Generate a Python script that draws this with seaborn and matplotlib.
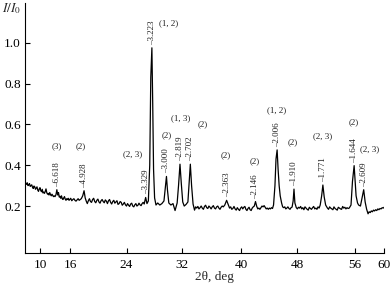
import numpy as np
import matplotlib
matplotlib.use("Agg")
import matplotlib.pyplot as plt
import seaborn as sns
import pandas as pd

# ---------------- data ----------------
two_theta = [
    7.0, 7.15, 7.3, 7.45, 7.6, 7.75, 7.9, 8.05, 8.2, 8.35,
    8.5, 8.65, 8.8, 8.95, 9.1, 9.25, 9.4, 9.55, 9.7, 9.85,
    10.0, 10.15, 10.3, 10.45, 10.6, 10.75, 10.9, 11.05, 11.2, 11.35,
    11.5, 11.65, 11.8, 11.95, 12.1, 12.25, 12.4, 12.55, 12.7, 12.85,
    13.0, 13.2, 13.37, 13.55, 13.7, 13.85, 14.0, 14.15, 14.3, 14.45,
    14.6, 14.75, 14.9, 15.05, 15.2, 15.35, 15.5, 15.65, 15.8, 15.95,
    16.1, 16.25, 16.4, 16.55, 16.7, 16.85, 17.0, 17.15, 17.3, 17.45,
    17.6, 17.8, 17.99, 18.15, 18.3, 18.45, 18.6, 18.75, 18.9, 19.05,
    19.2, 19.35, 19.5, 19.65, 19.8, 19.95, 20.1, 20.25, 20.4, 20.55,
    20.7, 20.85, 21.0, 21.15, 21.3, 21.45, 21.6, 21.75, 21.9, 22.05,
    22.2, 22.35, 22.5, 22.65, 22.8, 22.95, 23.1, 23.25, 23.4, 23.55,
    23.7, 23.85, 24.0, 24.15, 24.3, 24.45, 24.6, 24.75, 24.9, 25.05,
    25.2, 25.35, 25.5, 25.65, 25.8, 25.95, 26.1, 26.25, 26.4, 26.55,
    26.76, 26.95, 27.15, 27.35, 27.5, 27.66, 27.78, 27.9, 28.05, 28.25,
    28.5, 28.8, 29.1, 29.4, 29.6, 29.76, 29.9, 30.1, 30.4, 30.7,
    31.0, 31.3, 31.5, 31.71, 31.9, 32.1, 32.3, 32.55, 32.8, 33.0,
    33.13, 33.3, 33.5, 33.7, 33.85, 34.0, 34.15, 34.3, 34.45, 34.6,
    34.75, 34.9, 35.05, 35.2, 35.35, 35.5, 35.65, 35.8, 35.95, 36.1,
    36.25, 36.4, 36.55, 36.7, 36.85, 37.0, 37.15, 37.3, 37.45, 37.6,
    37.8, 38.05, 38.3, 38.45, 38.6, 38.75, 38.9, 39.05, 39.2, 39.35,
    39.5, 39.65, 39.8, 39.95, 40.1, 40.25, 40.4, 40.55, 40.7, 40.85,
    41.0, 41.15, 41.3, 41.45, 41.6, 41.75, 41.9, 42.07, 42.25, 42.4,
    42.55, 42.7, 42.85, 43.0, 43.15, 43.3, 43.45, 43.6, 43.75, 43.9,
    44.05, 44.2, 44.35, 44.5, 44.65, 44.85, 45.0, 45.16, 45.3, 45.45,
    45.6, 45.8, 45.95, 46.1, 46.25, 46.4, 46.55, 46.7, 46.85, 47.0,
    47.15, 47.3, 47.45, 47.57, 47.7, 47.9, 48.05, 48.2, 48.35, 48.5,
    48.65, 48.8, 48.95, 49.1, 49.25, 49.4, 49.55, 49.7, 49.85, 50.0,
    50.15, 50.3, 50.45, 50.6, 50.75, 50.9, 51.05, 51.2, 51.4, 51.57,
    51.75, 51.95, 52.2, 52.35, 52.5, 52.65, 52.8, 52.95, 53.1, 53.25,
    53.4, 53.55, 53.7, 53.85, 54.0, 54.15, 54.3, 54.45, 54.6, 54.75,
    54.9, 55.05, 55.2, 55.45, 55.65, 55.88, 56.0, 56.15, 56.35, 56.5,
    56.75, 57.0, 57.2, 57.4, 57.6, 57.8, 57.95, 58.1, 58.25, 58.4,
    58.55, 58.7, 58.85, 59.0, 59.15, 59.3, 59.45, 59.6, 59.75, 59.9,
    60.0]
intensity = [
    0.318, 0.312, 0.306, 0.314, 0.300, 0.304, 0.310, 0.296, 0.300, 0.304,
    0.292, 0.286, 0.298, 0.294, 0.282, 0.288, 0.294, 0.278, 0.272, 0.284,
    0.290, 0.276, 0.270, 0.282, 0.264, 0.268, 0.262, 0.272, 0.284, 0.266,
    0.258, 0.262, 0.254, 0.266, 0.256, 0.250, 0.258, 0.252, 0.246, 0.250,
    0.246, 0.256, 0.280, 0.254, 0.266, 0.244, 0.248, 0.238, 0.250, 0.236,
    0.232, 0.240, 0.246, 0.234, 0.228, 0.236, 0.232, 0.238, 0.228, 0.232,
    0.238, 0.226, 0.232, 0.236, 0.228, 0.224, 0.230, 0.236, 0.228, 0.232,
    0.236, 0.250, 0.275, 0.240, 0.224, 0.212, 0.226, 0.236, 0.222, 0.218,
    0.232, 0.238, 0.222, 0.216, 0.228, 0.234, 0.220, 0.214, 0.226, 0.232,
    0.222, 0.216, 0.230, 0.224, 0.212, 0.226, 0.232, 0.218, 0.210, 0.222,
    0.228, 0.214, 0.220, 0.226, 0.208, 0.212, 0.222, 0.218, 0.204, 0.210,
    0.218, 0.206, 0.200, 0.212, 0.204, 0.198, 0.210, 0.214, 0.200, 0.196,
    0.206, 0.212, 0.200, 0.204, 0.214, 0.206, 0.202, 0.212, 0.218, 0.210,
    0.242, 0.212, 0.225, 0.400, 0.830, 0.975, 0.700, 0.380, 0.240, 0.205,
    0.215, 0.205, 0.212, 0.225, 0.290, 0.345, 0.280, 0.215, 0.205, 0.212,
    0.178, 0.215, 0.300, 0.405, 0.310, 0.220, 0.200, 0.208, 0.220, 0.330,
    0.405, 0.300, 0.210, 0.180, 0.196, 0.190, 0.198, 0.186, 0.192, 0.200,
    0.190, 0.184, 0.198, 0.204, 0.192, 0.188, 0.200, 0.194, 0.186, 0.196,
    0.202, 0.190, 0.186, 0.196, 0.200, 0.190, 0.184, 0.194, 0.200, 0.196,
    0.205, 0.228, 0.205, 0.190, 0.196, 0.184, 0.188, 0.198, 0.186, 0.180,
    0.192, 0.184, 0.178, 0.190, 0.196, 0.186, 0.194, 0.198, 0.184, 0.178,
    0.188, 0.194, 0.182, 0.178, 0.190, 0.196, 0.200, 0.222, 0.198, 0.186,
    0.190, 0.184, 0.192, 0.200, 0.196, 0.202, 0.194, 0.186, 0.190, 0.184,
    0.190, 0.186, 0.192, 0.188, 0.205, 0.300, 0.430, 0.475, 0.380, 0.300,
    0.250, 0.215, 0.196, 0.192, 0.196, 0.186, 0.190, 0.196, 0.188, 0.184,
    0.192, 0.195, 0.225, 0.283, 0.215, 0.192, 0.186, 0.194, 0.190, 0.198,
    0.186, 0.192, 0.182, 0.196, 0.190, 0.184, 0.180, 0.194, 0.188, 0.184,
    0.192, 0.198, 0.186, 0.190, 0.184, 0.196, 0.190, 0.205, 0.250, 0.303,
    0.245, 0.205, 0.190, 0.184, 0.196, 0.190, 0.186, 0.182, 0.196, 0.188,
    0.184, 0.180, 0.194, 0.190, 0.186, 0.184, 0.198, 0.190, 0.194, 0.186,
    0.192, 0.188, 0.190, 0.205, 0.320, 0.398, 0.330, 0.250, 0.215, 0.205,
    0.200, 0.245, 0.280, 0.220, 0.185, 0.162, 0.172, 0.168, 0.176, 0.172,
    0.180, 0.176, 0.182, 0.178, 0.186, 0.182, 0.188, 0.186, 0.192, 0.190,
    0.194]

peak_angle = [13.37, 17.99, 26.76, 27.66, 29.76, 31.71, 33.13, 38.05, 42.07, 45.16, 47.57,
              51.57, 55.88, 57.2]
d_labels = ["6.618", "4.928", "3.329", "3.223", "3.000", "2.819", "2.702", "2.363", "2.146",
            "2.006", "1.910", "1.771", "1.644", "2.609"]
phase_labels = ["(3)", "(2)", "(2, 3)", "(1, 2)", "(2)", "(1, 3)", "(2)", "(2)", "(2)",
                "(1, 2)", "(2)", "(2, 3)", "(2)", "(2, 3)"]
x_ticks = [10, 16, 24, 32, 40, 48, 56, 60]
y_ticks = [0.2, 0.4, 0.6, 0.8, 1.0]

assert len(two_theta) == len(intensity)

# ---------------- layout / style ----------------
# the scanned axis is not uniformly spaced: scale knots (deg -> axis units)
axis_deg = np.array([5, 10, 16, 24, 32, 40, 48, 56, 60, 65], dtype=float)
axis_pos = np.array([15, 40, 70, 126.5, 182, 241, 297, 355, 384, 420], dtype=float)
# phase-label offsets from the peak top (pixels)
phase_offsets = [(0, 44), (-3, 45), (-13, 43), (17, 25), (0, 41), (1, 46), (12, 40),
                 (-1, 45), (-1, 40), (0, 40), (-1, 47), (0, 49), (0, 43), (6, 41)]

sns.set_theme(style="ticks")
plt.rcParams["font.family"] = ["Liberation Serif", "DejaVu Serif"]
plt.rcParams["mathtext.fontset"] = "stix"

W, H = 391, 284
fig = plt.figure(figsize=(W / 100, H / 100), dpi=100)
ax = fig.add_axes([25 / W, 1 - 253 / H, (384 - 25) / W, (253 - 2.7) / H])


def fwd(x):
    return np.interp(x, axis_deg, axis_pos)


def inv(p):
    return np.interp(p, axis_pos, axis_deg)


ax.set_xscale("function", functions=(fwd, inv))

df = pd.DataFrame({"two_theta": two_theta, "intensity": intensity})
sns.lineplot(data=df, x="two_theta", y="intensity", ax=ax, color="black",
             linewidth=0.9, sort=False, estimator=None)

ax.set_xlim(7, 60)
ax.set_ylim(-0.03, 1.196)
ax.set_xticks(x_ticks)
ax.set_xticklabels([str(t) for t in x_ticks])
ax.set_yticks(y_ticks)
ax.set_yticklabels([f"{t:.1f}" for t in y_ticks])
ax.minorticks_off()
ax.set_xlabel("")
ax.set_ylabel("")
for s in ("top", "right"):
    ax.spines[s].set_visible(False)
for s in ("left", "bottom"):
    ax.spines[s].set_linewidth(0.8)
    ax.spines[s].set_color("black")
ax.tick_params(axis="both", direction="in", length=3.5, width=0.8, colors="black",
               labelsize=9.5)
ax.tick_params(axis="x", pad=4)
ax.tick_params(axis="y", pad=3)

lookup = dict(zip(two_theta, intensity))
for ang, d, ph, (dx, dy) in zip(peak_angle, d_labels, phase_labels, phase_offsets):
    top = lookup[ang]
    ax.annotate("\u2013" + d, xy=(ang, top), xytext=(0, 3), textcoords="offset pixels",
                rotation=90, ha="center", va="bottom", fontsize=6.5, color="#222222")
    ax.annotate(ph, xy=(ang, top), xytext=(dx, dy), textcoords="offset pixels",
                ha="center", va="center", fontsize=6.5, color="#222222")

fig.text(2 / W, 1 - 9 / H, r"$I/I_0$", ha="left", va="center", fontsize=9.5)
fig.text(214 / W, 1 - 277 / H, "2\u03b8, deg", ha="center", va="center", fontsize=9.5)

fig.savefig("out.png", dpi=100)
